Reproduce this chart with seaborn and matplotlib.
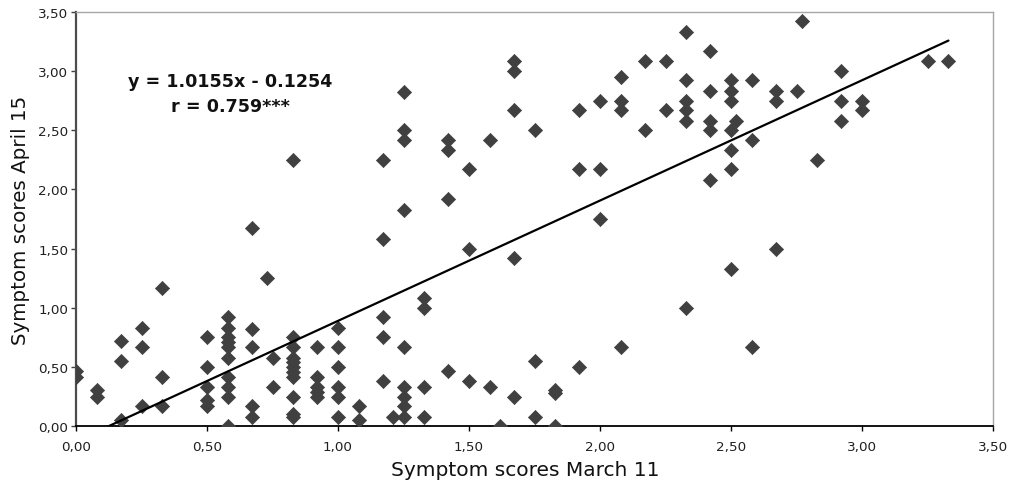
import numpy as np
import pandas as pd
import seaborn as sns
import matplotlib
matplotlib.use("Agg")
import matplotlib.pyplot as plt
from matplotlib.ticker import FixedLocator, FixedFormatter

# Symptom scores per subject: March 11 (x) and April 15 (y)
march_11 = [
    0.00, 0.00,
    0.08, 0.08,
    0.17, 0.17, 0.17,
    0.25, 0.25, 0.25,
    0.33, 0.33, 0.33,
    0.50, 0.50, 0.50, 0.50, 0.50,
    0.58, 0.58, 0.58, 0.58, 0.58, 0.58, 0.58, 0.58, 0.58, 0.58,
    0.67, 0.67, 0.67, 0.67, 0.67,
    0.73,
    0.75, 0.75,
    0.83, 0.83, 0.83, 0.83, 0.83, 0.83, 0.83, 0.83, 0.83, 0.83, 0.83,
    0.92, 0.92, 0.92, 0.92, 0.92,
    1.00, 1.00, 1.00, 1.00, 1.00, 1.00,
    1.08, 1.08,
    1.17, 1.17, 1.17, 1.17, 1.17,
    1.21,
    1.25, 1.25, 1.25, 1.25, 1.25, 1.25, 1.25, 1.25, 1.25,
    1.33, 1.33, 1.33, 1.33,
    1.42, 1.42, 1.42, 1.42,
    1.50, 1.50, 1.50,
    1.58, 1.58,
    1.62,
    1.67, 1.67, 1.67, 1.67, 1.67,
    1.75, 1.75, 1.75,
    1.83, 1.83, 1.83,
    1.92, 1.92, 1.92,
    2.00, 2.00, 2.00,
    2.08, 2.08, 2.08, 2.08,
    2.17, 2.17,
    2.25, 2.25,
    2.33, 2.33, 2.33, 2.33, 2.33, 2.33,
    2.42, 2.42, 2.42, 2.42, 2.42,
    2.50, 2.50, 2.50, 2.50, 2.50, 2.50, 2.50,
    2.52,
    2.58, 2.58, 2.58,
    2.67, 2.67, 2.67,
    2.75,
    2.77,
    2.83,
    2.92, 2.92, 2.92,
    3.00, 3.00,
    3.25,
    3.33,
]

april_15 = [
    0.47, 0.42,
    0.31, 0.25,
    0.72, 0.55, 0.05,
    0.83, 0.67, 0.17,
    1.17, 0.42, 0.17,
    0.75, 0.50, 0.33, 0.22, 0.17,
    0.92, 0.83, 0.75, 0.71, 0.67, 0.58, 0.42, 0.33, 0.25, 0.00,
    1.67, 0.82, 0.67, 0.17, 0.08,
    1.25,
    0.58, 0.33,
    2.25, 0.75, 0.67, 0.58, 0.54, 0.50, 0.46, 0.42, 0.25, 0.10, 0.08,
    0.67, 0.42, 0.33, 0.29, 0.25,
    0.83, 0.67, 0.50, 0.33, 0.25, 0.08,
    0.17, 0.05,
    2.25, 1.58, 0.92, 0.75, 0.38,
    0.08,
    2.82, 2.50, 2.42, 1.83, 0.67, 0.33, 0.25, 0.17, 0.08,
    1.08, 1.00, 0.33, 0.08,
    2.42, 2.33, 1.92, 0.47,
    2.17, 1.50, 0.38,
    2.42, 0.33,
    0.00,
    3.08, 3.00, 2.67, 1.42, 0.25,
    2.50, 0.55, 0.08,
    0.31, 0.28, 0.00,
    2.67, 2.17, 0.50,
    2.75, 2.17, 1.75,
    2.95, 2.75, 2.67, 0.67,
    3.08, 2.50,
    3.08, 2.67,
    3.33, 2.92, 2.75, 2.67, 2.58, 1.00,
    3.17, 2.83, 2.58, 2.50, 2.08,
    2.92, 2.83, 2.75, 2.50, 2.33, 2.17, 1.33,
    2.58,
    2.92, 2.42, 0.67,
    2.83, 2.75, 1.50,
    2.83,
    3.42,
    2.25,
    3.00, 2.75, 2.58,
    2.75, 2.67,
    3.08,
    3.08,
]

# Linear trend and correlation shown on the chart
slope = 1.0155
intercept = -0.1254
r_value = 0.759

tick_values = [0.0, 0.5, 1.0, 1.5, 2.0, 2.5, 3.0, 3.5]
tick_labels = ["0,00", "0,50", "1,00", "1,50", "2,00", "2,50", "3,00", "3,50"]

df = pd.DataFrame({"march": march_11, "april": april_15})

sns.set_theme(style="white")
plt.rcParams["font.family"] = ["DejaVu Sans"]

fig = plt.figure(figsize=(10.14, 4.85), dpi=100)
ax = fig.add_axes([76 / 1014, 1 - 427.3 / 485, 917 / 1014, 414.6 / 485])

marker_color = "#404040"
sns.scatterplot(data=df, x="march", y="april", marker="D", s=52,
                color=marker_color, edgecolor=marker_color, linewidth=0.5,
                ax=ax, zorder=3)

# Trend line over the observed range of March scores
x_line = np.array([min(march_11), max(march_11)])
ax.plot(x_line, slope * x_line + intercept, color="black", lw=1.6, zorder=4)

ax.set_xlim(0, 3.5)
ax.set_ylim(0, 3.5)
ax.xaxis.set_major_locator(FixedLocator(tick_values))
ax.xaxis.set_major_formatter(FixedFormatter(tick_labels))
ax.yaxis.set_major_locator(FixedLocator(tick_values))
ax.yaxis.set_major_formatter(FixedFormatter(tick_labels))

ax.tick_params(axis="x", which="major", bottom=True, direction="out",
               length=3.6, width=1, color="black", labelsize=9.7,
               labelcolor="#202020", pad=6.5)
ax.tick_params(axis="y", which="major", left=True, direction="out",
               length=3.6, width=1, color="#404040", labelsize=9.7,
               labelcolor="#202020", pad=2)

for side in ("top", "right"):
    ax.spines[side].set_color("#a6a6a6")
    ax.spines[side].set_linewidth(1.0)
ax.spines["left"].set_color("#4d4d4d")
ax.spines["left"].set_linewidth(1.6)
ax.spines["bottom"].set_color("black")
ax.spines["bottom"].set_linewidth(1.3)

ax.set_xlabel("Symptom scores March 11", fontsize=14.5, color="#111111")
ax.set_ylabel("Symptom scores April 15", fontsize=14.3, color="#111111")
ax.xaxis.set_label_coords(0.49, -0.081)
ax.yaxis.set_label_coords(-0.050, 0.5)

ax.text(0.588, 2.917, f"y = {slope:.4f}x - {abs(intercept):.4f}",
        fontsize=12.6, fontweight="bold", ha="center", va="center",
        color="#111111")
ax.text(0.588, 2.70, f"r = {r_value:.3f}***",
        fontsize=12.6, fontweight="bold", ha="center", va="center",
        color="#111111")

fig.savefig("out.png", dpi=100)
